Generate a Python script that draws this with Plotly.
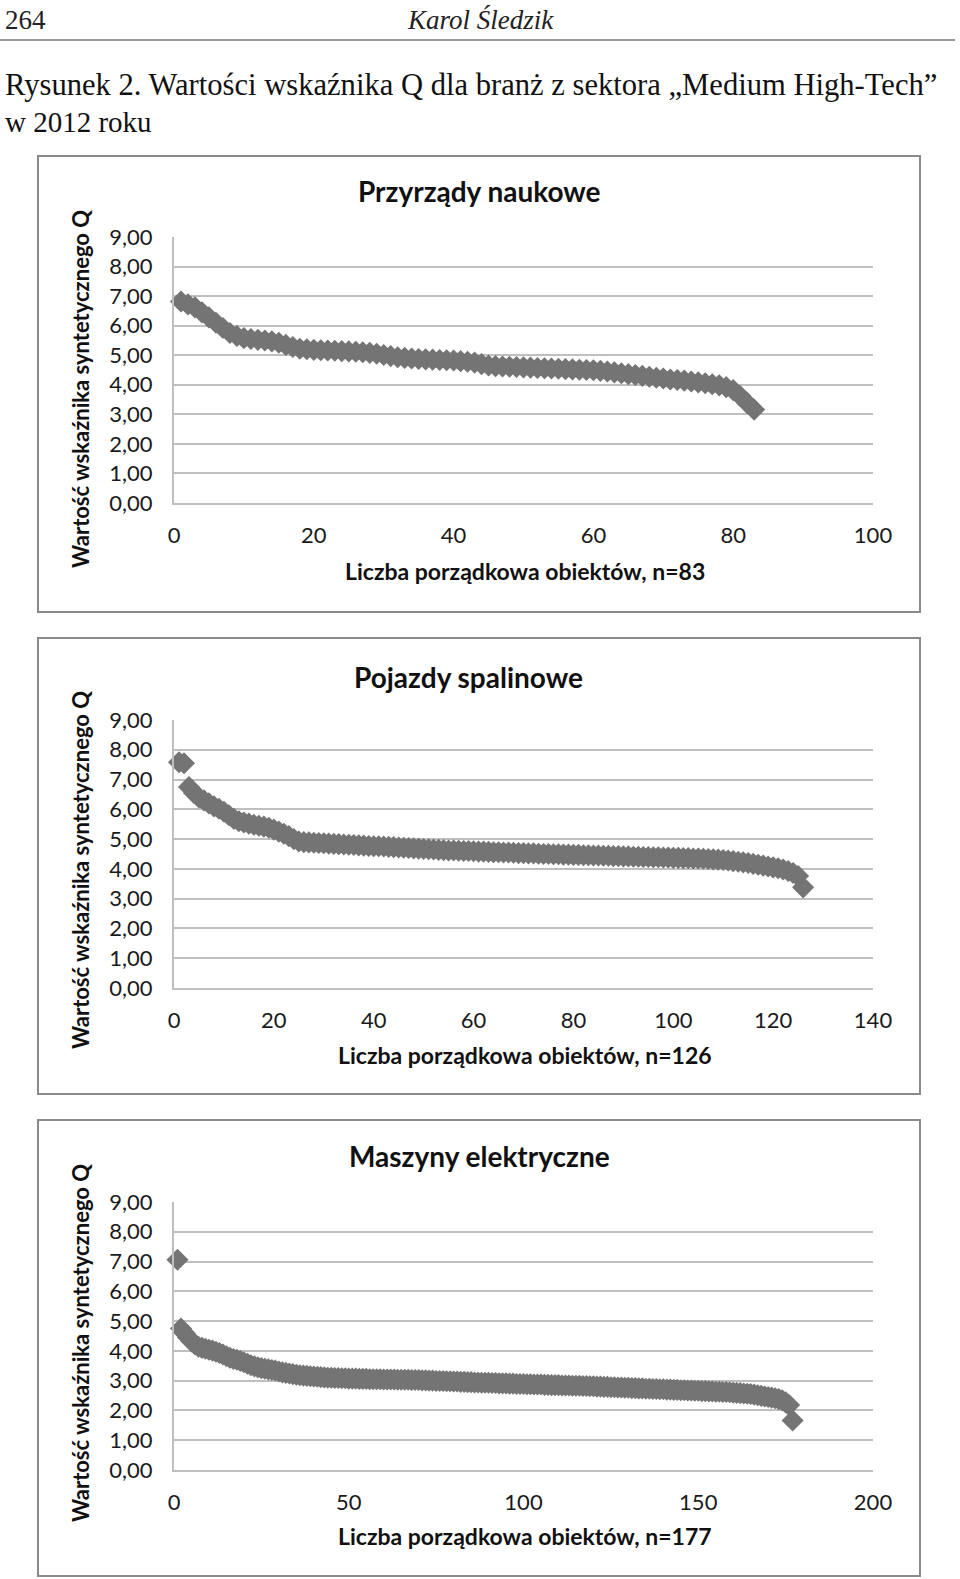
import plotly.graph_objects as go

# ---------------- data ----------------
titles = ["Przyrządy naukowe", "Pojazdy spalinowe", "Maszyny elektryczne"]
x_titles = ["Liczba porządkowa obiektów, n=83",
            "Liczba porządkowa obiektów, n=126",
            "Liczba porządkowa obiektów, n=177"]
y_title = "Wartość wskaźnika syntetycznego Q"
x_max = [100, 140, 200]
x_dtick = [20, 20, 50]

q_przyrzady = [
    6.82, 6.72, 6.62, 6.45, 6.28, 6.10, 5.92, 5.75, 5.65, 5.58,
    5.55, 5.52, 5.50, 5.47, 5.42, 5.35, 5.28, 5.22, 5.20, 5.18,
    5.17, 5.16, 5.15, 5.14, 5.13, 5.12, 5.10, 5.08, 5.05, 5.01,
    4.97, 4.93, 4.91, 4.89, 4.87, 4.86, 4.85, 4.84, 4.83, 4.82,
    4.80, 4.78, 4.75, 4.70, 4.65, 4.63, 4.62, 4.61, 4.60, 4.59,
    4.58, 4.57, 4.56, 4.55, 4.54, 4.53, 4.52, 4.51, 4.50, 4.49,
    4.47, 4.45, 4.42, 4.39, 4.36, 4.33, 4.30, 4.27, 4.24, 4.21,
    4.18, 4.16, 4.14, 4.11, 4.08, 4.05, 4.02, 3.98, 3.92, 3.82,
    3.62, 3.38, 3.16,
]

q_pojazdy = [
    7.58, 7.55, 6.75, 6.55, 6.40, 6.30, 6.20, 6.10, 6.02, 5.92,
    5.80, 5.68, 5.60, 5.56, 5.52, 5.48, 5.45, 5.42, 5.38, 5.32,
    5.25, 5.18, 5.10, 5.00, 4.92, 4.90, 4.89, 4.88, 4.87, 4.86,
    4.85, 4.84, 4.83, 4.82, 4.81, 4.80, 4.79, 4.78, 4.77, 4.76,
    4.76, 4.75, 4.74, 4.73, 4.72, 4.71, 4.70, 4.69, 4.68, 4.67,
    4.66, 4.65, 4.64, 4.63, 4.62, 4.62, 4.61, 4.60, 4.60, 4.59,
    4.58, 4.58, 4.57, 4.56, 4.56, 4.55, 4.55, 4.54, 4.53, 4.53,
    4.52, 4.52, 4.51, 4.50, 4.50, 4.49, 4.49, 4.48, 4.48, 4.47,
    4.47, 4.46, 4.46, 4.45, 4.45, 4.44, 4.44, 4.43, 4.43, 4.42,
    4.42, 4.41, 4.41, 4.40, 4.40, 4.39, 4.39, 4.38, 4.38, 4.37,
    4.37, 4.36, 4.36, 4.35, 4.35, 4.34, 4.33, 4.32, 4.31, 4.30,
    4.28, 4.26, 4.24, 4.22, 4.20, 4.17, 4.14, 4.11, 4.08, 4.05,
    4.02, 3.98, 3.93, 3.86, 3.76, 3.38,
]

q_maszyny = [
    7.06, 4.75, 4.60, 4.45, 4.32, 4.22, 4.14, 4.10, 4.07, 4.04,
    4.01, 3.97, 3.93, 3.88, 3.82, 3.77, 3.73, 3.70, 3.66, 3.62,
    3.57, 3.52, 3.48, 3.45, 3.42, 3.40, 3.38, 3.36, 3.34, 3.31,
    3.28, 3.26, 3.24, 3.22, 3.20, 3.18, 3.17, 3.16, 3.15, 3.14,
    3.13, 3.12, 3.11, 3.10, 3.10, 3.09, 3.09, 3.08, 3.08, 3.07,
    3.07, 3.07, 3.06, 3.06, 3.06, 3.05, 3.05, 3.05, 3.05, 3.04,
    3.04, 3.04, 3.04, 3.03, 3.03, 3.03, 3.03, 3.02, 3.02, 3.02,
    3.01, 3.01, 3.00, 3.00, 2.99, 2.99, 2.99, 2.98, 2.98, 2.97,
    2.97, 2.96, 2.96, 2.95, 2.95, 2.94, 2.94, 2.93, 2.93, 2.93,
    2.92, 2.92, 2.91, 2.91, 2.91, 2.90, 2.90, 2.89, 2.89, 2.89,
    2.88, 2.88, 2.87, 2.87, 2.87, 2.86, 2.86, 2.85, 2.85, 2.85,
    2.84, 2.84, 2.84, 2.83, 2.83, 2.83, 2.82, 2.82, 2.81, 2.81,
    2.80, 2.80, 2.79, 2.79, 2.78, 2.78, 2.77, 2.77, 2.76, 2.76,
    2.75, 2.75, 2.74, 2.74, 2.73, 2.73, 2.72, 2.72, 2.71, 2.71,
    2.70, 2.70, 2.69, 2.69, 2.68, 2.68, 2.67, 2.67, 2.66, 2.66,
    2.65, 2.65, 2.64, 2.64, 2.63, 2.63, 2.62, 2.62, 2.61, 2.60,
    2.59, 2.58, 2.57, 2.56, 2.55, 2.53, 2.51, 2.49, 2.47, 2.45,
    2.43, 2.41, 2.38, 2.34, 2.27, 2.18, 1.66,
]

series = [q_przyrzady, q_pojazdy, q_maszyny]

# ---------------- layout helpers ----------------
W, H = 960, 1579


def px(x):
    return x / W


def py(y):
    return 1 - y / H


FONT = "Lato, 'Open Sans', sans-serif"
SERIF = "'Liberation Serif', 'DejaVu Serif', serif"
MARK = "#747474"
GRID = "#bfbfbf"

plot_left, plot_right = 174, 873
panels = [  # frame top, frame bottom, plot top (9), plot bottom (0)
    dict(ft=156, fb=612, pt=237, pb=503, title_y=191, xt_y=571, yt_y=389),
    dict(ft=638, fb=1094, pt=720, pb=988, title_y=677, xt_y=1055, yt_y=870),
    dict(ft=1120, fb=1576, pt=1202, pb=1470, title_y=1156, xt_y=1536, yt_y=1343),
]
title_x = [479, 468, 479]

fig = go.Figure()
shapes = []
annotations = []

for k, (vals, p) in enumerate(zip(series, panels)):
    idx = "" if k == 0 else str(k + 1)
    xs = list(range(1, len(vals) + 1))
    fig.add_trace(go.Scatter(
        x=xs, y=vals, mode="markers",
        marker=dict(symbol="diamond", size=17, color=MARK,
                    line=dict(width=0)),
        xaxis="x" + idx, yaxis="y" + idx, showlegend=False,
        hoverinfo="x+y", cliponaxis=False,
    ))
    fig.update_layout(**{
        "xaxis" + idx: dict(
            domain=[px(plot_left), px(plot_right)],
            range=[0, x_max[k]], dtick=x_dtick[k], tick0=0,
            showgrid=False, zeroline=False, automargin=False,
            showline=True, linecolor=GRID, linewidth=2,
            ticks="outside", ticklen=12, tickcolor="rgba(0,0,0,0)",
            tickfont=dict(family=FONT, size=22, color="#1a1a1a"),
            anchor="y" + idx, fixedrange=True,
        ),
        "yaxis" + idx: dict(
            domain=[py(p["pb"]), py(p["pt"])],
            range=[0, 9], dtick=1, tick0=0, tickformat=".2f",
            showgrid=True, gridcolor=GRID, gridwidth=2,
            zeroline=False, automargin=False,
            showline=True, linecolor=GRID, linewidth=2,
            ticks="outside", ticklen=15, tickcolor="rgba(0,0,0,0)",
            tickfont=dict(family=FONT, size=22, color="#1a1a1a"),
            anchor="x" + idx, fixedrange=True,
        ),
    })
    # chart frame
    shapes.append(dict(type="rect", xref="paper", yref="paper",
                       x0=px(38), x1=px(920), y0=py(p["fb"]), y1=py(p["ft"]),
                       line=dict(color="#8a8a8a", width=2), layer="below"))
    annotations.append(dict(text=titles[k], x=px(title_x[k]), y=py(p["title_y"]),
                            xref="paper", yref="paper", showarrow=False,
                            xanchor="center", yanchor="middle",
                            font=dict(family=FONT, size=28, color="#111111",
                                      weight="bold")))
    annotations.append(dict(text=x_titles[k], x=px(525), y=py(p["xt_y"]),
                            xref="paper", yref="paper", showarrow=False,
                            xanchor="center", yanchor="middle",
                            font=dict(family=FONT, size=23, color="#111111",
                                      weight="bold")))
    annotations.append(dict(text=y_title, x=px(80), y=py(p["yt_y"]),
                            xref="paper", yref="paper", showarrow=False,
                            textangle=-90, xanchor="center", yanchor="middle",
                            font=dict(family=FONT, size=22, color="#111111",
                                      weight="bold")))

# page header
annotations += [
    dict(text="264", x=px(3), y=py(20), xref="paper", yref="paper",
         showarrow=False, xanchor="left", yanchor="middle",
         font=dict(family=SERIF, size=27, color="#222222")),
    dict(text="<i>Karol Śledzik</i>", x=px(480), y=py(20), xref="paper",
         yref="paper", showarrow=False, xanchor="center", yanchor="middle",
         font=dict(family=SERIF, size=27, color="#222222")),
    dict(text="Rysunek 2. Wartości wskaźnika Q dla branż z sektora „Medium High-Tech”",
         x=px(3), y=py(85), xref="paper", yref="paper", showarrow=False,
         xanchor="left", yanchor="middle",
         font=dict(family=SERIF, size=30.6, color="#111111")),
    dict(text="w 2012 roku", x=px(3), y=py(122), xref="paper", yref="paper",
         showarrow=False, xanchor="left", yanchor="middle",
         font=dict(family=SERIF, size=29, color="#111111")),
]
shapes.append(dict(type="line", xref="paper", yref="paper",
                   x0=0, x1=px(955), y0=py(40), y1=py(40),
                   line=dict(color="#777777", width=1.5)))

fig.update_layout(
    width=W, height=H, autosize=False,
    margin=dict(l=0, r=0, t=0, b=0, pad=0, autoexpand=False),
    paper_bgcolor="white", plot_bgcolor="white",
    separators=",.",
    shapes=shapes, annotations=annotations,
    showlegend=False,
)

fig.write_html(
    "out.html",
    config={"displayModeBar": False},
    post_script="document.body.style.margin='0';"
                "document.body.style.padding='0';"
                "document.body.style.overflow='hidden';",
)
